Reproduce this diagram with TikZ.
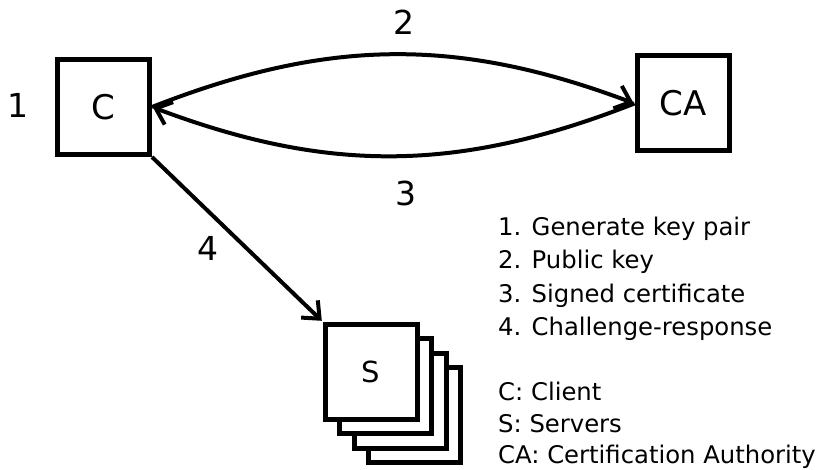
\documentclass[tikz,border=0pt]{standalone}
\usepackage{fontspec}
\setmainfont{DejaVu Sans}
\usetikzlibrary{arrows.meta}
\tikzset{
  box/.style={draw, line width=5pt, fill=white, minimum width=92pt, minimum height=95pt, inner sep=0pt},
  conn/.style={line width=4pt, -{Straight Barb[length=14pt,width=24pt]}, shorten >=1pt},
  num/.style={font=\fontsize{33}{33}\selectfont},
  legend/.style={anchor=base west, inner sep=0pt, font=\fontsize{24.3}{24.3}\selectfont}
}
\begin{document}
\begin{tikzpicture}[x=1pt,y=-1pt]
\useasboundingbox (0,0) rectangle (827,470);
% server stack (back to front)
\node[box] (s3) at (414.5,415) {};
\node[box] (s2) at (400,400.5) {};
\node[box] (s1) at (385.5,386) {};
\node[box, font=\fontsize{29}{29}\selectfont] (S) at (371,371.5) {S};
\node[box, font=\fontsize{34}{34}\selectfont] (C) at (103.5,107) {C};
\node[box, font=\fontsize{34}{34}\selectfont] (CA) at (683,103.5) {CA};
% connectors
\draw[conn] (C.east) to[bend left=21] (CA.west);
\draw[conn] (CA.west) to[bend left=21] (C.east);
\draw[conn] (C.south east) -- (S.north west);
% labels
\node[num] (l1) at (18,105) {1};
\node[num] (l2) at (404,22) {2};
\node[num] (l3) at (406,193) {3};
\node[num] (l4) at (207.5,248) {4};
% legend
\node[legend] (t1) at (498,236) {1. Generate key pair};
\node[legend] (t2) at (498,269) {2. Public key};
\node[legend] (t3) at (498,302) {3. Signed certificate};
\node[legend] (t4) at (498,335) {4. Challenge-response};
\node[legend] (t5) at (498,400) {C: Client};
\node[legend] (t6) at (498,432) {S: Servers};
\node[legend] (t7) at (498,463.5) {CA: Certification Authority};
\end{tikzpicture}
\end{document}
